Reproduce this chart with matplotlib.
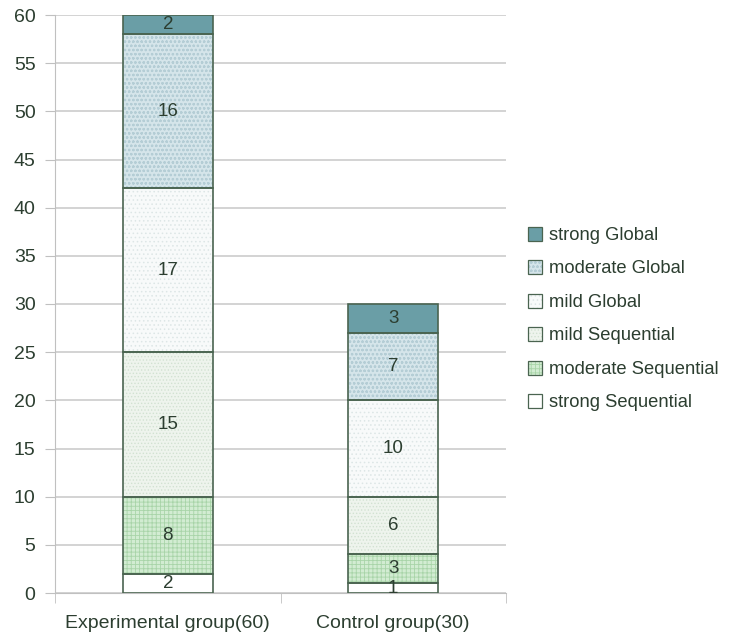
import numpy as np
import matplotlib.pyplot as plt
from matplotlib.patches import Patch

plt.rcParams['font.family'] = ['Liberation Sans', 'DejaVu Sans']
plt.rcParams['hatch.linewidth'] = 0.6

# Dati
groups = ['Experimental group(60)', 'Control group(30)']
series = ['strong Sequential', 'moderate Sequential', 'mild Sequential',
          'mild Global', 'moderate Global', 'strong Global']
strong_seq = [2, 1]
moderate_seq = [8, 3]
mild_seq = [15, 6]
mild_glob = [17, 10]
moderate_glob = [16, 7]
strong_glob = [2, 3]
values = [strong_seq, moderate_seq, mild_seq, mild_glob, moderate_glob, strong_glob]

# Stili (colore di fondo, colore tratteggio, tratteggio)
styles = [
    ('#ffffff', '#ffffff', ''),
    ('#d2ecd2', '#a8d4a8', '++++'),
    ('#eef4ed', '#d2e2d2', '.....'),
    ('#f8fafa', '#dde6e6', '....'),
    ('#d5e5ea', '#b4cdd5', 'oooo'),
    ('#6a9ea6', '#6a9ea6', ''),
]
edge = '#4a6450'
txt = '#2c3e30'

fig = plt.figure(figsize=(7.29, 6.38), dpi=100)
ax = fig.add_axes([55 / 729, 45 / 638, 451 / 729, 578 / 638])

x = np.arange(len(groups))
width = 0.40
bottom = np.zeros(len(groups))
for vals, (fc, hc, hatch) in zip(values, styles):
    vals = np.array(vals, dtype=float)
    ax.bar(x, vals, width, bottom=bottom, color=fc, edgecolor=hc, hatch=hatch,
           linewidth=0, zorder=2)
    ax.bar(x, vals, width, bottom=bottom, fill=False, edgecolor=edge,
           linewidth=1.2, zorder=3)
    for xi, v, b in zip(x, vals, bottom):
        ax.text(xi, b + v / 2, f'{int(v)}', ha='center', va='center',
                fontsize=13.5, color=txt, zorder=4)
    bottom += vals

ax.set_xlim(-0.5, 1.5)
ax.set_ylim(0, 60)
ax.set_yticks(range(0, 61, 5))
ax.set_xticks(x)
ax.set_xticklabels(groups)
ax.set_xticks([-0.5, 0.5, 1.5], minor=True)
ax.tick_params(axis='x', which='major', length=0, pad=16, labelsize=14, labelcolor=txt)
ax.tick_params(axis='x', which='minor', length=7, color='#c0c0c0')
ax.tick_params(axis='y', length=7, color='#c0c0c0', pad=7, labelsize=14, labelcolor=txt)
ax.grid(axis='y', color='#cccccc', linewidth=1.2, zorder=0)
ax.set_axisbelow(True)
for s in ['top', 'right']:
    ax.spines[s].set_visible(False)
ax.spines['left'].set_color('#c0c0c0')
ax.spines['bottom'].set_color('#c0c0c0')

handles = [(Patch(facecolor=fc, edgecolor=hc, hatch=h, linewidth=0),
            Patch(fill=False, edgecolor=edge, linewidth=0.9))
           for fc, hc, h in styles]
leg = fig.legend(handles[::-1], series[::-1], loc='center left',
                 bbox_to_anchor=(511 / 729, 0.50), frameon=False, fontsize=13.2,
                 handlelength=0.8, handleheight=0.8, handletextpad=0.35,
                 labelspacing=0.88, labelcolor=txt)

plt.savefig('out.png', dpi=100)
